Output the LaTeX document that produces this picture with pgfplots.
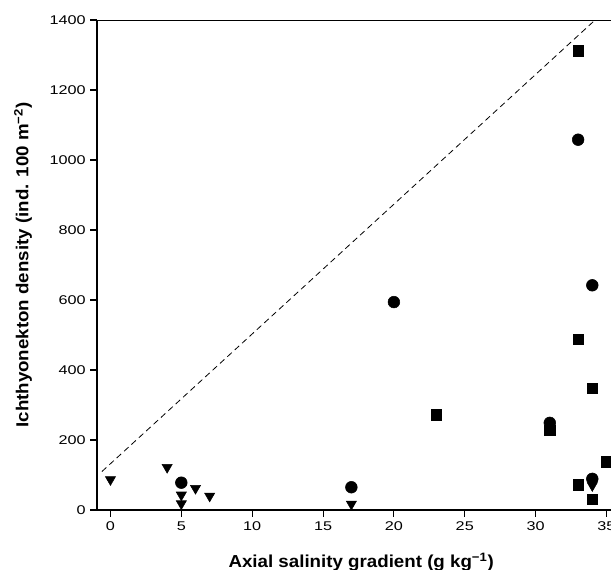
\documentclass[border=0pt]{standalone}
\usepackage{fontspec}
\setmainfont{Liberation Sans}
\newfontfamily\widefont[FakeStretch=1.28]{Liberation Sans}
\newfontfamily\labelfont[FakeStretch=1.08]{Liberation Sans}
\usepackage{pgfplots}
\pgfplotsset{compat=1.18}
\begin{document}
\begin{tikzpicture}
\begin{axis}[
  name=ax,
  scale only axis,
  width=385.5pt, height=367.5pt,
  xmin=-0.95, xmax=35.32,
  ymin=0, ymax=1400,
  axis x line*=bottom, axis y line*=left,
  axis line style={line width=1pt},
  tick align=outside,
  major tick length=5pt,
  tick style={line width=0.8pt, black},
  xtick={0,5,...,35},
  ytick={0,200,...,1400},
  /pgf/number format/assume math mode=true,
  /pgf/number format/set thousands separator={},
  ticklabel style={font=\widefont\fontsize{9.5}{11}\selectfont},
  xlabel={\textbf{Axial salinity gradient (g kg\textsuperscript{−1})}},
  ylabel={\textbf{Ichthyonekton density (ind. 100 m\textsuperscript{−2})}},
  label style={font=\labelfont\fontsize{13}{15}\selectfont},
  xlabel style={at={(axis description cs:0.514,-0.106)}, anchor=center},
  ylabel style={at={(axis description cs:-0.144,0.5)}, anchor=center},
  clip=false,
]
\draw[line width=0.6pt] (rel axis cs:0,1) -- (rel axis cs:1,1);
\addplot[black, dashed, dash pattern=on 4.5pt off 3pt, line width=0.6pt] coordinates {(-0.6,110) (34.2,1400)};
% triangles (down)
\addplot[only marks, mark=triangle*, mark size=4.4pt, mark options={rotate=180, fill=black, draw=black}] coordinates {
(0,87) (4,122) (5,43) (5,18) (6,62) (7,40) (17,17) (34,70)};
% circles
\addplot[only marks, mark=*, mark size=4.4pt, mark options={fill=black, draw=black}] coordinates {
(5,78) (17,65) (20,594) (31,249) (33,1058) (34,642) (34,89)};
% squares
\addplot[only marks, mark=square*, mark size=4pt, mark options={fill=black, draw=black}] coordinates {
(23,273) (31,228) (33,1313) (33,488) (34,348) (35,138) (33,73) (34,31)};
\end{axis}
\pgfresetboundingbox
\path[use as bounding box] ([xshift=-72.75pt,yshift=-45pt]ax.south west) rectangle ([yshift=15pt]ax.north east);
\end{tikzpicture}
\end{document}
